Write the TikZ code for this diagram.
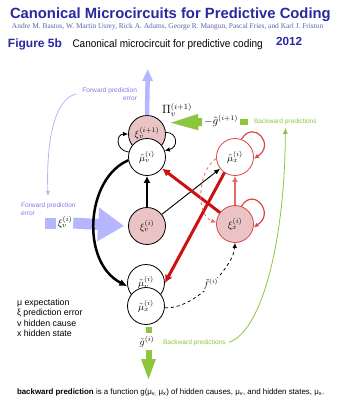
\documentclass[tikz,border=0pt]{standalone}
\usepackage{fontspec}
\setmainfont{Liberation Sans}
\newfontfamily\serifauth{Liberation Serif}
\usetikzlibrary{arrows.meta}
\definecolor{titleblue}{RGB}{40,40,160}
\definecolor{authblue}{RGB}{95,95,175}
\definecolor{lav}{RGB}{182,182,255}
\definecolor{lavtext}{RGB}{125,125,230}
\definecolor{grn}{RGB}{140,198,63}
\definecolor{pinkfill}{RGB}{234,196,196}
\definecolor{redarr}{RGB}{204,17,17}
\definecolor{redline}{RGB}{220,70,70}
\definecolor{redlight}{RGB}{226,105,105}
\begin{document}
\begin{tikzpicture}[x=1pt,y=-1pt,
  unit/.style={circle, draw, line width=0.8pt, minimum size=37pt, inner sep=0pt, fill=white, font=\fontsize{10}{12}\selectfont},
  errunit/.style={unit, fill=pinkfill},
  redunit/.style={unit, draw=redline},
  lbl/.style={inner sep=0pt, outer sep=0pt},
  smalltip/.style={-{Latex[length=5pt,width=4.5pt]}},
  bigtip/.style={-{Latex[length=8pt,width=8pt]}},
  smalltxt/.style={lbl, font=\fontsize{6.6}{8.5}\selectfont},
  legend/.style={lbl, anchor=base west, font=\fontsize{8.8}{10}\selectfont},
]
\useasboundingbox (0,0) rectangle (360,400);

% ---------- titles ----------
\node[lbl, anchor=base west, text=titleblue, font=\fontsize{14.8}{16}\selectfont\bfseries] (title) at (10,18) {Canonical Microcircuits for Predictive Coding};
\node[lbl, anchor=base west, text=authblue, font=\serifauth\fontsize{7.4}{8}\selectfont] (authors) at (12,28) {Andre M. Bastos, W. Martin Usrey, Rick A. Adams, George R. Mangun, Pascal Fries, and Karl J. Friston};
\node[lbl, anchor=base west, text=titleblue, font=\fontsize{12}{14}\selectfont\bfseries] (fig) at (8,47) {Figure 5b};
\node[lbl, anchor=base west, font=\fontsize{11}{13}\selectfont] (sub) at (72.5,47) {\scalebox{0.91}[1]{Canonical microcircuit for predictive coding}};
\node[lbl, anchor=base west, text=titleblue, font=\fontsize{11.7}{13}\selectfont\bfseries] (year) at (276,45) {2012};

% ---------- units ----------
\node[errunit] (xiv1) at (147,134) {\raisebox{3pt}{$\xi_v^{(i+1)}$}};
\node[unit] (muvt) at (147,157) {$\tilde{\mu}_v^{(i)}$};
\node[redunit] (muxt) at (235,157) {$\tilde{\mu}_x^{(i)}$};
\node[errunit] (xiv) at (147,226) {$\xi_v^{(i)}$};
\node[errunit, draw=redline] (xix) at (235,224) {$\xi_x^{(i)}$};
\node[unit] (muvb) at (146,283) {\raisebox{2.5pt}{$\tilde{\mu}_v^{(i)}$}};
\node[unit] (muxb) at (146,306) {$\tilde{\mu}_x^{(i)}$};

% ---------- forward prediction error (top) ----------
\coordinate (fwdtop) at (147.8,69);
\draw[lav, line width=4.5pt, -{Triangle[length=12pt,width=10pt]}] (xiv1.north) -- (fwdtop);
\node[smalltxt, text=lavtext, align=right, anchor=north east] (fpe1) at (137,87.3) {Forward prediction\\error};
\node[smalltxt, text=lavtext, align=left, anchor=north west] (fpe2) at (21,202.3) {Forward prediction\\error};
\coordinate (fpearr) at (48,196);
\draw[lav, line width=0.8pt, smalltip] ([xshift=-6pt]fpe1.west) .. controls (55,98) and (46,140) .. (fpearr);

% ---------- forward prediction error (left, big arrow) ----------
\node[lbl, font=\fontsize{10}{12}\selectfont] (xivlab) at (65,222) {$\xi_v^{(i)}$};
\coordinate (stubL) at (45,223);
\draw[lav, line width=11pt] (stubL) -- ([xshift=-1.5pt]xivlab.west |- stubL);
\draw[lav, line width=11pt, -{Triangle[length=26pt,width=32pt]}] ([xshift=1pt]xivlab.east |- stubL) -- ([xshift=-4pt]xiv.west);

% ---------- backward prediction (top, green) ----------
\node[lbl, font=\fontsize{10.5}{12}\selectfont] (gtop) at (221,121) {$-\tilde{g}^{(i+1)}$};
\coordinate (gstub) at (248,122);
\draw[grn, line width=5.5pt] ([xshift=2pt]gtop.east |- gstub) -- (gstub);
\draw[grn, line width=8pt, -{Triangle[length=36pt,width=13pt]}] ([xshift=-2pt]gtop.west |- gstub) -- (xiv1.36);
\node[lbl, font=\fontsize{12}{14}\selectfont] (pi) at (177,110) {$\Pi_v^{(i+1)}$};
\node[smalltxt, anchor=base west, text=grn] (bp1) at (254,123.5) {Backward predictions};

% ---------- backward prediction (bottom, green) ----------
\node[lbl, font=\fontsize{10}{12}\selectfont] (gbot) at (147,342) {$\tilde{g}^{(i)}$};
\coordinate (gstub2) at (148.5,333);
\coordinate (gend) at (148.5,381);
\coordinate (gstart) at (148.5,350);
\draw[grn, line width=6pt] ([yshift=-2.5pt]muxb.south -| gstub2) -- (gstub2);
\draw[grn, line width=6pt, -{Triangle[length=22pt,width=13pt]}] (gstart) -- (gend);
\node[smalltxt, anchor=base west, text=grn] (bp2) at (163,344) {Backward predictions};
\draw[grn, line width=0.8pt, -{Latex[length=6pt,width=5pt]}] ([xshift=3pt]bp2.east) .. controls (262,332) and (285,240) .. ([yshift=-3pt]bp1.south);

% ---------- self loops ----------
\draw[line width=0.8pt, smalltip] (muvt.165) .. controls +(-14,-2) and +(-12,0) .. (xiv1.180);
\draw[line width=0.8pt, smalltip] (xiv1.5) .. controls +(12,0) and +(14,-3) .. (muvt.20);
\draw[redline, line width=1.2pt, smalltip] (muxt.70) .. controls +(12,-20) and +(22,-14) .. (muxt.-5);
\draw[redline, line width=1.2pt, smalltip] (xix.70) .. controls +(12,-20) and +(22,-14) .. (xix.-10);

% ---------- connections ----------
\draw[line width=2.5pt, -{Latex[length=7pt,width=7pt]}] (xiv) -- (muvt);
\draw[line width=0.9pt, -{Latex[length=6pt,width=5pt]}] (xiv) -- (muxt);
\draw[redarr, line width=3pt, bigtip] (xix) -- (muvt);
\draw[redarr, line width=3pt, bigtip] (muxt.236) -- (muvb.east);
\draw[redlight, line width=1.6pt, -{Latex[length=6pt,width=6pt]}] (xix) -- (muxt);
\draw[redlight, dashed, line width=0.8pt, smalltip] (muxt.185) .. controls (198,170) and (195,215) .. (xix.175);
\draw[line width=2.5pt, -{Latex[length=8pt,width=7pt]}] (muvt.190) .. controls (86,178) and (80,262) .. (muvb.190);
\draw[dashed, line width=0.8pt, smalltip] (muxb.-5) .. controls (195,310) and (234,265) .. node[pos=0.5, fill=white, inner sep=1pt, font=\fontsize{9}{10}\selectfont] (flab) {$\tilde{f}^{(i)}$} (xix.south);

% ---------- legend ----------
\node[legend] (l1) at (17,305) {μ expectation};
\node[legend] (l2) at (17,315.5) {ξ prediction error};
\node[legend] (l3) at (17,326) {v hidden cause};
\node[legend] (l4) at (17,336.5) {x hidden state};

\node[lbl, anchor=base west, font=\fontsize{7.9}{9}\selectfont] (foot) at (17,394) {\textbf{backward prediction} is a function g(μ\textsubscript{v,} μ\textsubscript{x}) of hidden causes, μ\textsubscript{v}, and hidden states, μ\textsubscript{x}.};
\end{tikzpicture}
\end{document}
